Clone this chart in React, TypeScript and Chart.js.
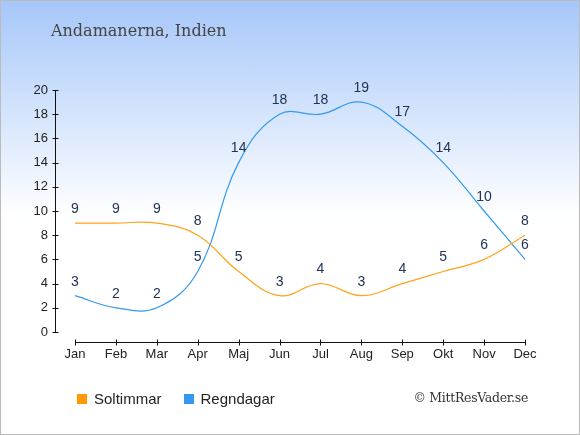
import { useEffect, useRef } from 'react';
import { Chart, registerables } from 'chart.js';

Chart.register(...registerables);

const months = ['Jan', 'Feb', 'Mar', 'Apr', 'Maj', 'Jun', 'Jul', 'Aug', 'Sep', 'Okt', 'Nov', 'Dec'];
const soltimmar = [9, 9, 9, 8, 5, 3, 4, 3, 4, 5, 6, 8];
const regndagar = [3, 2, 2, 5, 14, 18, 18, 19, 17, 14, 10, 6];
const yTicks = [0, 2, 4, 6, 8, 10, 12, 14, 16, 18, 20];

const ORANGE = '#ffa31a';
const BLUE = '#3399ee';

// axis lines + value labels, drawn through the scales
const decorPlugin = {
  id: 'decor',
  afterDraw(chart: any) {
    const ctx = chart.ctx;
    const x = chart.scales.x;
    const y = chart.scales.y;
    ctx.save();
    ctx.strokeStyle = '#111';
    ctx.lineWidth = 1;

    const ax = 54.5;
    ctx.beginPath();
    ctx.moveTo(ax, y.getPixelForValue(20));
    ctx.lineTo(ax, y.getPixelForValue(0));
    yTicks.forEach(v => {
      const py = Math.round(y.getPixelForValue(v)) + 0.5;
      ctx.moveTo(ax - 3, py);
      ctx.lineTo(ax + 3, py);
    });
    ctx.stroke();

    const ay = 341.5;
    ctx.beginPath();
    ctx.moveTo(x.getPixelForValue(0), ay);
    ctx.lineTo(x.getPixelForValue(months.length - 1), ay);
    months.forEach((_, i) => {
      const px = Math.round(x.getPixelForValue(i)) + 0.5;
      ctx.moveTo(px, ay - 3);
      ctx.lineTo(px, ay + 3);
    });
    ctx.stroke();

    ctx.fillStyle = '#223355';
    ctx.font = '14px "Liberation Sans", Arial, sans-serif';
    ctx.textAlign = 'center';
    ctx.textBaseline = 'middle';
    chart.data.datasets.forEach((ds: any) => {
      ds.data.forEach((v: number, i: number) => {
        ctx.fillText(String(v), x.getPixelForValue(i), y.getPixelForValue(v) - 14);
      });
    });
    ctx.restore();
  },
};

function WeatherChart() {
  const chartRef = useRef<HTMLCanvasElement>(null);
  const chartInstance = useRef<Chart | null>(null);

  useEffect(() => {
    if (!chartRef.current) return;
    const ctx = chartRef.current.getContext('2d');
    if (!ctx) return;

    if (chartInstance.current) {
      chartInstance.current.destroy();
    }

    chartInstance.current = new Chart(ctx, {
      type: 'line',
      data: {
        labels: months,
        datasets: [
          {
            label: 'Soltimmar',
            data: soltimmar,
            borderColor: ORANGE,
            borderWidth: 1.2,
            pointRadius: 0,
            tension: 0.4,
            fill: false,
          },
          {
            label: 'Regndagar',
            data: regndagar,
            borderColor: BLUE,
            borderWidth: 1.2,
            pointRadius: 0,
            tension: 0.4,
            fill: false,
          },
        ],
      },
      options: {
        responsive: false,
        animation: false,
        layout: { padding: { top: 89, right: 56, bottom: 74, left: 0 } },
        plugins: {
          legend: { display: false },
          tooltip: { enabled: false },
        },
        scales: {
          x: {
            offset: false,
            grid: { display: false, drawTicks: false },
            border: { display: false },
            ticks: {
              color: '#222',
              padding: 15,
              maxRotation: 0,
              autoSkip: false,
              font: { family: '"Liberation Sans", Arial, sans-serif', size: 13 },
            },
            afterFit: (scale: any) => { scale.height = 30; },
          },
          y: {
            min: 0,
            max: 20,
            grid: { display: false, drawTicks: false },
            border: { display: false },
            ticks: {
              stepSize: 2,
              color: '#222',
              padding: 27,
              font: { family: '"Liberation Sans", Arial, sans-serif', size: 13 },
            },
            afterFit: (scale: any) => { scale.width = 74; },
          },
        },
      },
      plugins: [decorPlugin],
    });

    return () => {
      if (chartInstance.current) {
        chartInstance.current.destroy();
        chartInstance.current = null;
      }
    };
  }, []);

  return <canvas ref={chartRef} width={580} height={435} style={{ position: 'absolute', left: 0, top: 0 }}></canvas>;
}

export default function App() {
  const sans = '"Liberation Sans", Arial, sans-serif';
  return (
    <div
      style={{
        position: 'fixed',
        left: 0,
        top: 0,
        width: 580,
        height: 435,
        boxSizing: 'border-box',
        border: '1px solid #bbb',
        background: 'linear-gradient(to bottom, #a6c7f9 0%, #ffffff 50%, #ffffff 100%)',
        overflow: 'hidden',
      }}
    >
      <WeatherChart />
      <div style={{ position: 'absolute', left: 50, top: 20, fontFamily: '"DejaVu Serif", serif', fontSize: 16, color: '#444' }}>
        Andamanerna, Indien
      </div>
      <div style={{ position: 'absolute', left: 76, top: 389, display: 'flex', alignItems: 'center', fontFamily: sans, fontSize: 15, color: '#222' }}>
        <span style={{ width: 10, height: 10, background: '#ff9900', marginRight: 7 }}></span>
        <span>Soltimmar</span>
        <span style={{ width: 10, height: 10, background: '#3399ee', marginLeft: 22, marginRight: 7 }}></span>
        <span>Regndagar</span>
      </div>
      <div style={{ position: 'absolute', right: 51, top: 389, fontFamily: '"DejaVu Serif", serif', fontSize: 12.5, letterSpacing: -0.3, color: '#333' }}>
        © MittResVader.se
      </div>
    </div>
  );
}
